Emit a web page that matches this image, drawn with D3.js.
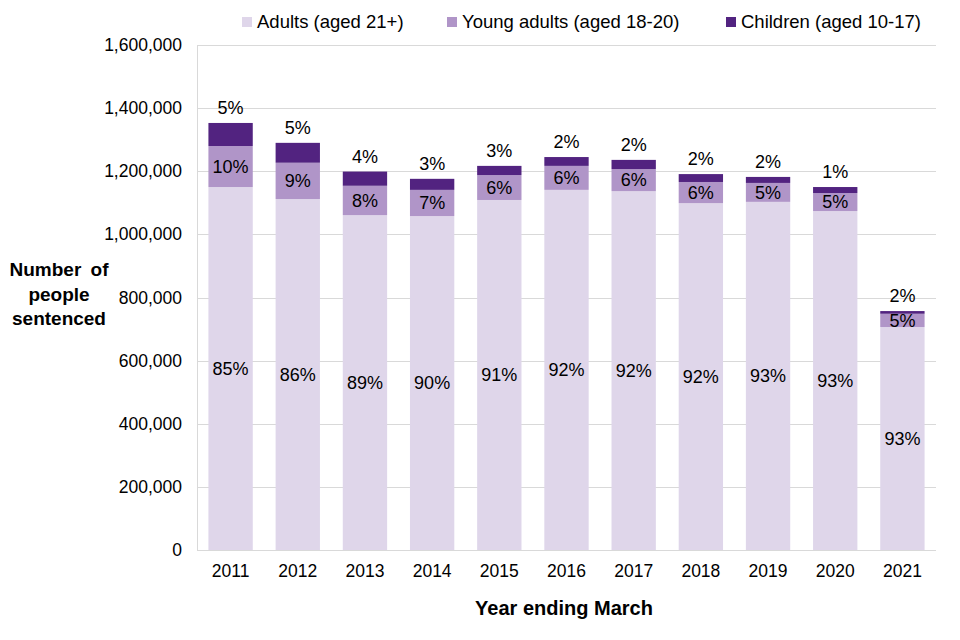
<!DOCTYPE html>
<html>
<head>
<meta charset="utf-8">
<script src="https://cdn.jsdelivr.net/npm/d3@7"></script>
<style>
body { margin: 0; background: #fff; }
text { font-family: "Liberation Sans", Arial, sans-serif; fill: #000; }
</style>
</head>
<body>
<script>
//chart data
var years = ["2011", "2012", "2013", "2014", "2015", "2016", "2017", "2018", "2019", "2020", "2021"];
var adults = [1150000, 1112000, 1061000, 1058000, 1109000, 1141000, 1137000, 1099000, 1103000, 1074000, 706500];
var youngAdults = [130000, 115000, 93000, 83000, 79000, 76000, 70000, 67000, 60000, 57000, 42000];
var children = [73000, 63000, 45000, 35000, 29000, 28000, 29000, 25000, 19000, 19000, 8500];
var adultLabels = ["85%", "86%", "89%", "90%", "91%", "92%", "92%", "92%", "93%", "93%", "93%"];
var youngLabels = ["10%", "9%", "8%", "7%", "6%", "6%", "6%", "6%", "5%", "5%", "5%"];
var childLabels = ["5%", "5%", "4%", "3%", "3%", "2%", "2%", "2%", "2%", "1%", "2%"];
var yTicks = [0, 200000, 400000, 600000, 800000, 1000000, 1200000, 1400000, 1600000];
var seriesNames = ["Adults (aged 21+)", "Young adults (aged 18-20)", "Children (aged 10-17)"];
var colors = ["#dfd6ea", "#b095c8", "#522380"];

var w = 960, h = 640;
var plotLeft = 197, plotRight = 936, plotTop = 45, plotBottom = 550;

var svg = d3.select("body").append("svg")
    .attr("width", w)
    .attr("height", h);

//build rows for the stack
var rows = years.map(function(yr, i){
    return {year: yr, adult: adults[i], young: youngAdults[i], child: children[i], i: i};
});
var layers = d3.stack().keys(["adult", "young", "child"])(rows);

var x = d3.scaleBand()
    .domain(years)
    .range([plotLeft, plotRight])
    .paddingInner(0.34)
    .paddingOuter(0.17);

var y = d3.scaleLinear()
    .domain([0, 1600000])
    .range([plotBottom, plotTop]);

//gridlines
svg.append("g")
    .selectAll("line")
    .data(yTicks.slice(1))
    .enter()
    .append("line")
    .attr("x1", plotLeft)
    .attr("x2", plotRight)
    .attr("y1", function(d){ return Math.round(y(d)) + 0.5; })
    .attr("y2", function(d){ return Math.round(y(d)) + 0.5; })
    .style("stroke", "#d9d9d9")
    .style("stroke-width", 1);

//bars
svg.append("g")
    .selectAll("g")
    .data(layers)
    .enter()
    .append("g")
    .style("fill", function(d, i){ return colors[i]; })
    .selectAll("rect")
    .data(function(d){ return d; })
    .enter()
    .append("rect")
    .attr("x", function(d){ return x(d.data.year); })
    .attr("width", x.bandwidth())
    .attr("y", function(d){ return y(d[1]); })
    .attr("height", function(d){ return y(d[0]) - y(d[1]); });

//left axis line and bottom axis line
svg.append("line")
    .attr("x1", plotLeft + 0.5).attr("x2", plotLeft + 0.5)
    .attr("y1", plotTop).attr("y2", plotBottom)
    .style("stroke", "#d9d9d9");
svg.append("line")
    .attr("x1", plotLeft).attr("x2", plotRight)
    .attr("y1", plotBottom + 0.5).attr("y2", plotBottom + 0.5)
    .style("stroke", "#d9d9d9");

//y axis
var fmt = d3.format(",");
var yAxis = d3.axisLeft(y)
    .tickValues(yTicks)
    .tickSize(0)
    .tickPadding(15)
    .tickFormat(function(d){ return fmt(d); });
var ya = svg.append("g")
    .attr("transform", "translate(" + plotLeft + ",0)")
    .call(yAxis);
ya.select(".domain").remove();
ya.selectAll("text")
    .style("font-size", "17.5px")
    .style("font-family", "Liberation Sans, Arial, sans-serif")
    .attr("fill", "#000");

//x axis
var xAxis = d3.axisBottom(x).tickSize(0).tickPadding(15);
var xa = svg.append("g")
    .attr("transform", "translate(0," + plotBottom + ")")
    .call(xAxis);
xa.select(".domain").remove();
xa.selectAll("text")
    .style("font-size", "17.5px")
    .style("font-family", "Liberation Sans, Arial, sans-serif")
    .attr("fill", "#000");

//percentage labels
var cx = function(d){ return x(d.year) + x.bandwidth() / 2; };
svg.append("g").selectAll("text")
    .data(rows).enter().append("text")
    .attr("x", cx)
    .attr("y", function(d){ return (y(d.adult) + y(0)) / 2; })
    .attr("dy", "0.35em")
    .attr("text-anchor", "middle")
    .style("font-size", "18px")
    .text(function(d){ return adultLabels[d.i]; });
svg.append("g").selectAll("text")
    .data(rows).enter().append("text")
    .attr("x", cx)
    .attr("y", function(d){ return (y(d.adult) + y(d.adult + d.young)) / 2; })
    .attr("dy", "0.35em")
    .attr("text-anchor", "middle")
    .style("font-size", "18px")
    .text(function(d){ return youngLabels[d.i]; });
svg.append("g").selectAll("text")
    .data(rows).enter().append("text")
    .attr("x", cx)
    .attr("y", function(d){ return y(d.adult + d.young + d.child) - 15; })
    .attr("dy", "0.35em")
    .attr("text-anchor", "middle")
    .style("font-size", "18px")
    .text(function(d){ return childLabels[d.i]; });

//axis titles
svg.append("text")
    .attr("x", 564)
    .attr("y", 615)
    .attr("text-anchor", "middle")
    .style("font-size", "20px")
    .style("font-weight", "bold")
    .text("Year ending March");
var yt = svg.append("text")
    .attr("text-anchor", "middle")
    .style("font-size", "19px")
    .style("font-weight", "bold")
    .style("word-spacing", "4px");
["Number of", "people", "sentenced"].forEach(function(s, i){
    yt.append("tspan")
        .attr("x", 59)
        .attr("y", 276 + i * 24.5)
        .text(s);
});

//legend
var legendX = [242, 447, 726];
var lg = svg.append("g").selectAll("g")
    .data(seriesNames).enter().append("g")
    .attr("transform", function(d, i){ return "translate(" + legendX[i] + ",22)"; });
lg.append("rect")
    .attr("x", 0).attr("y", -5)
    .attr("width", 10).attr("height", 10)
    .style("fill", function(d, i){ return colors[i]; });
lg.append("text")
    .attr("x", 15)
    .attr("dy", "0.35em")
    .style("font-size", "18.5px")
    .text(function(d){ return d; });
</script>
</body>
</html>
